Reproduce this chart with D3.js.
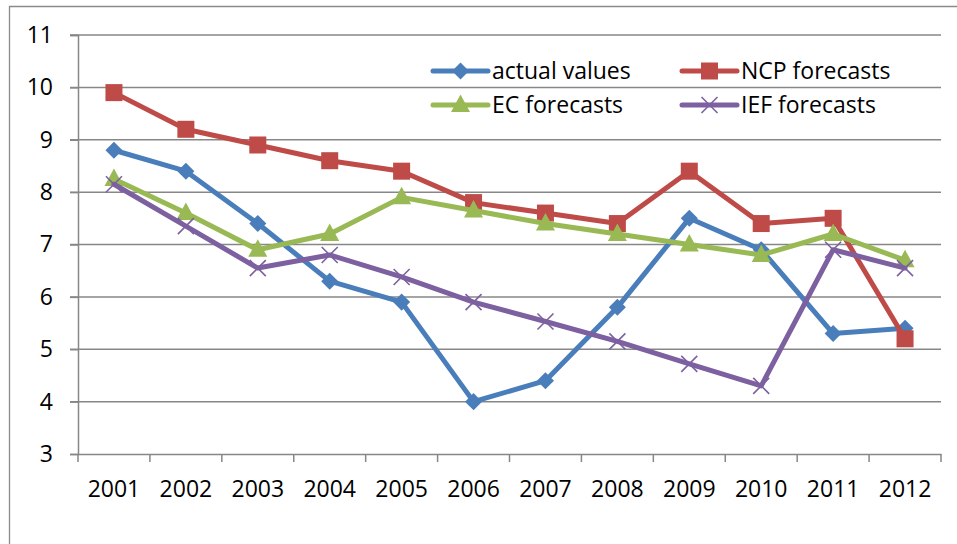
<!DOCTYPE html>
<html>
<head>
<meta charset="utf-8">
<script src="https://cdn.jsdelivr.net/npm/d3@7"></script>
<style>
  html, body { margin: 0; padding: 0; background: #fff; }
  svg { display: block; }
  text { font-family: "Open Sans", "Liberation Sans", sans-serif; fill: #000; }
</style>
</head>
<body>
<svg id="chart" width="957" height="544"></svg>
<script>
// Years on the category axis
const years = ["2001","2002","2003","2004","2005","2006","2007","2008","2009","2010","2011","2012"];

// Series values
const actualValues = [8.8, 8.4, 7.4, 6.3, 5.9, 4.0, 4.4, 5.8, 7.5, 6.9, 5.3, 5.4];
const ncpForecasts = [9.9, 9.2, 8.9, 8.6, 8.4, 7.8, 7.6, 7.4, 8.4, 7.4, 7.5, 5.2];
const ecForecasts  = [8.25, 7.6, 6.9, 7.2, 7.9, 7.65, 7.4, 7.2, 7.0, 6.8, 7.2, 6.7];
const iefForecasts = [8.15, 7.35, 6.55, 6.8, 6.38, 5.9, 5.53, 5.15, 4.72, 4.3, 6.9, 6.55];

// Value axis ticks
const yTicks = [3, 4, 5, 6, 7, 8, 9, 10, 11];

const seriesNames = ["actual values", "NCP forecasts", "EC forecasts", "IEF forecasts"];
const seriesColors = ["#4A7EBB", "#BE4B48", "#98B954", "#7D60A0"];
const seriesMarkers = ["diamond", "square", "triangle", "cross"];

const series = [actualValues, ncpForecasts, ecForecasts, iefForecasts].map((vals, i) => ({
  name: seriesNames[i], color: seriesColors[i], marker: seriesMarkers[i],
  points: vals.map((v, j) => ({ year: years[j], value: v }))
}));

const svg = d3.select("#chart");
const plot = { left: 78, right: 941, top: 35, bottom: 454 };
const fontSize = 23;

const x = d3.scaleBand().domain(years).range([plot.left, plot.right]).padding(0);
const y = d3.scaleLinear().domain([3, 11]).range([plot.bottom, plot.top]);
const cx = d => x(d.year) + x.bandwidth() / 2;

const gridColor = "#878787";

// Outer frame (top and left edges)
svg.append("path")
  .attr("d", "M9.5,544 V6.5 H957")
  .attr("fill", "none").attr("stroke", "#8a8a8a").attr("stroke-width", 1.3);

// Horizontal gridlines
svg.append("g").selectAll("line").data(yTicks.filter(t => t > 3)).join("line")
  .attr("x1", plot.left - 8).attr("x2", plot.right)
  .attr("y1", d => y(d)).attr("y2", d => y(d))
  .attr("stroke", gridColor).attr("stroke-width", 1.5);

// Value axis
const yAxis = d3.axisLeft(y).tickValues(yTicks).tickSize(8).tickPadding(17).tickFormat(d3.format("d"));
const gy = svg.append("g").attr("transform", `translate(${plot.left},0)`).call(yAxis);
gy.select(".domain").attr("stroke", gridColor).attr("stroke-width", 1.5);
gy.selectAll(".tick line").attr("stroke", gridColor).attr("stroke-width", 1.5);
gy.selectAll(".tick text").attr("font-size", fontSize).attr("font-family", "Open Sans");

// Category axis with ticks between categories
const gx = svg.append("g").attr("transform", `translate(0,${plot.bottom})`)
  .call(d3.axisBottom(x).tickSize(0).tickPadding(27));
gx.select(".domain").attr("stroke", gridColor).attr("stroke-width", 1.5);
gx.selectAll(".tick text").attr("font-size", fontSize).attr("font-family", "Open Sans");
svg.append("g").selectAll("line").data(years.concat(["end"])).join("line")
  .attr("x1", (d, i) => plot.left + i * x.bandwidth())
  .attr("x2", (d, i) => plot.left + i * x.bandwidth())
  .attr("y1", plot.bottom).attr("y2", plot.bottom + 8)
  .attr("stroke", gridColor).attr("stroke-width", 1.5);

// Marker shapes
function drawMarker(g, type, color) {
  if (type === "diamond") {
    g.append("path").attr("d", d3.symbol(d3.symbolDiamond2, 185)()).attr("fill", color);
  } else if (type === "square") {
    g.append("rect").attr("x", -8.5).attr("y", -8.5).attr("width", 17).attr("height", 17).attr("fill", color);
  } else if (type === "triangle") {
    g.append("path").attr("d", "M0,-10.5 L9.5,7 L-9.5,7 Z").attr("fill", color);
  } else if (type === "cross") {
    g.append("path").attr("d", "M-8,-8 L8,8 M-8,8 L8,-8")
      .attr("stroke", color).attr("stroke-width", 1.6).attr("fill", "none");
  }
}

const line = d3.line().x(cx).y(d => y(d.value));

series.forEach(s => {
  const g = svg.append("g");
  g.append("path").datum(s.points).attr("d", line)
    .attr("fill", "none").attr("stroke", s.color).attr("stroke-width", 5)
    .attr("stroke-linejoin", "round").attr("stroke-linecap", "round");
  g.selectAll("g.m").data(s.points).join("g").attr("class", "m")
    .attr("transform", d => `translate(${cx(d)},${y(d.value)})`)
    .each(function () { drawMarker(d3.select(this), s.marker, s.color); });
});

// Legend
const legendPos = [[433, 71], [682, 71], [433, 105], [682, 105]];
series.forEach((s, i) => {
  const [lx, ly] = legendPos[i];
  const g = svg.append("g").attr("transform", `translate(${lx},${ly})`);
  g.append("line").attr("x1", 0).attr("x2", 55).attr("y1", 0).attr("y2", 0)
    .attr("stroke", s.color).attr("stroke-width", 5).attr("stroke-linecap", "round");
  const m = g.append("g").attr("transform", "translate(27.5,0)");
  drawMarker(m, s.marker, s.color);
  g.append("text").attr("x", 59).attr("y", 0).attr("dy", "0.35em")
    .attr("font-size", fontSize).text(s.name);
});
</script>
</body>
</html>
